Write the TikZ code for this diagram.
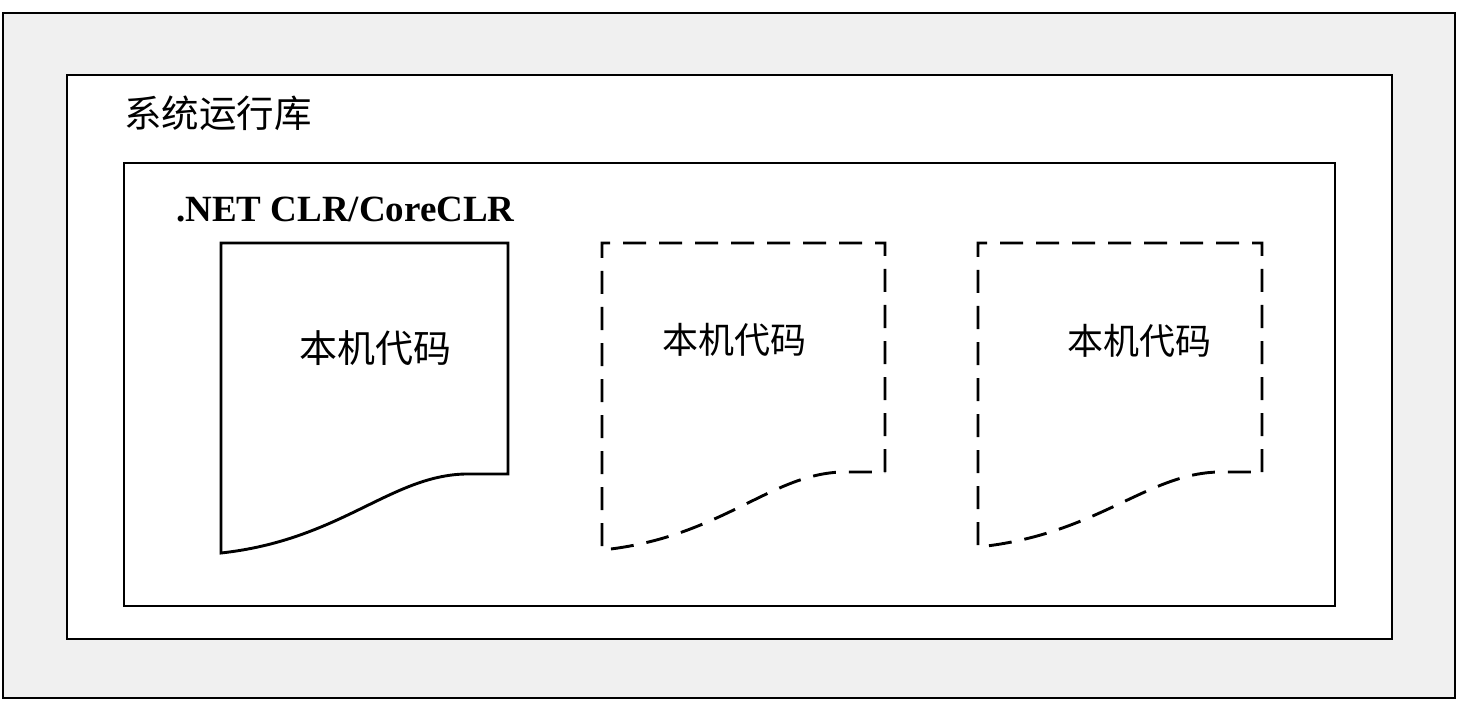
\documentclass[tikz,border=0pt]{standalone}
\usepackage{fontspec}
\setmainfont{Liberation Serif}
\newfontfamily\cjk{Noto Sans CJK SC}
\begin{document}
\begin{tikzpicture}[x=1pt,y=-1pt,
  frame/.style={draw=black,line width=2.9pt},
  docsolid/.style={draw=black,line width=2.9pt,fill=white,line join=miter},
  docdash/.style={draw=black,line width=2.9pt,fill=white,dash pattern=on 23pt off 13pt},
  cjklabel/.style={inner sep=0pt,font=\cjk\fontsize{36}{40}\selectfont},
  title/.style={inner sep=0pt,anchor=base west,font=\bfseries\fontsize{37}{40}\selectfont}]
\useasboundingbox (0,0) rectangle (1459,711);
% outer frame
\draw[frame,fill=black!6] (3,13) rectangle (1455,698);
% system runtime box
\draw[frame,fill=white] (67,75) rectangle (1392,639);
% CLR box
\draw[frame,fill=white] (124,163) rectangle (1335,606);
% documents
\draw[docsolid] (221,243) -- (508,243) -- (508,474) -- (465,474)
  .. controls (390,476) and (340,540) .. (221,553) -- cycle;
\draw[docdash] (885,472) -- (885,243) -- (602,243) -- (602,550)
  .. controls (720,538) and (770,474) .. (842,472) -- cycle;
\draw[docdash] (1262,472) -- (1262,243) -- (978,243) -- (978,547)
  .. controls (1096,535) and (1146,474) .. (1218,472) -- cycle;
% labels
\node[cjklabel,anchor=west,font=\cjk\fontsize{37.5}{40}\selectfont] (sys) at (124,113) {系统运行库};
\node[title] (clr) at (176,222) {.NET CLR/CoreCLR};
\node[cjklabel,font=\cjk\fontsize{38}{40}\selectfont] (n1) at (375,348) {本机代码};
\node[cjklabel] (n2) at (734,340) {本机代码};
\node[cjklabel] (n3) at (1139,341) {本机代码};
\end{tikzpicture}
\end{document}
